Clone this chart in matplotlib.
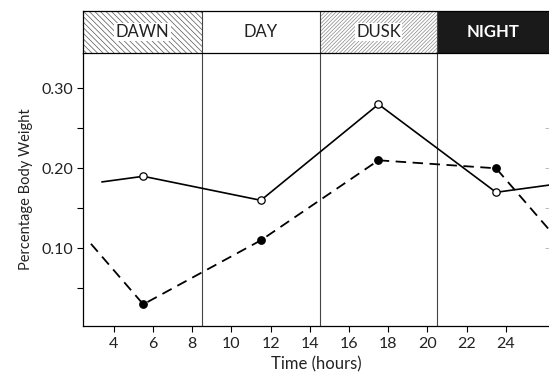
import numpy as np
import matplotlib.pyplot as plt
from matplotlib.patches import Rectangle

# ── Data ────────────────────────────────────────────────────────────────
hours = [5.5, 11.5, 17.5, 23.5]
open_series = [0.19, 0.16, 0.28, 0.17]     # solid line, open circles
filled_series = [0.03, 0.11, 0.21, 0.20]   # dashed line, filled circles

periods = ['DAWN', 'DAY', 'DUSK', 'NIGHT']
period_edges = [8.5, 14.5, 20.5]

x_ticks = [4, 6, 8, 10, 12, 14, 16, 18, 20, 22, 24]
y_ticks = [0.10, 0.20, 0.30]
y_tick_labels = ['0.10', '0.20', '0.30']

XMIN, XMAX = 2.42, 26.2
YMIN, YMAX = 0.003, 0.344

plt.rcParams['font.family'] = ['Lato', 'DejaVu Sans']
plt.rcParams['hatch.linewidth'] = 0.5


def cyclic(x, y, start, stop):
    """Day is cyclic: wrap the series around 24 h and cut it to [start, stop]."""
    xs = np.concatenate([[x[-1] - 24], x, [x[0] + 24]])
    ys = np.concatenate([[y[-1]], y, [y[0]]])
    inner = [h for h in x if start < h < stop]
    px = [start] + inner + [stop]
    return px, np.interp(px, xs, ys)


fig = plt.figure(figsize=(5.49, 3.79), dpi=100)
ax = fig.add_axes([0.151, 0.140, 0.849, 0.720])
hdr = fig.add_axes([0.151, 0.860, 0.849, 0.112])

# period dividers
for e in period_edges:
    ax.axvline(e, color='#444444', lw=0.8, zorder=1)

# lines (each started where the printed line begins)
px, py = cyclic(hours, open_series, 3.4, XMAX)
ax.plot(px, py, color='black', lw=1.2, zorder=2)
ax.plot(hours, open_series, 'o', ms=5.3, mfc='white', mec='black', mew=0.9, zorder=3)

px, py = cyclic(hours, filled_series, 2.83, XMAX)
ax.plot(px, py, color='black', lw=1.3, dashes=(5.8, 3.6), zorder=2)
ax.plot(hours, filled_series, 'o', ms=5.3, color='black', zorder=3)

ax.set_xlim(XMIN, XMAX)
ax.set_ylim(YMIN, YMAX)
ax.set_xticks(x_ticks)
ax.set_xticklabels([str(t) for t in x_ticks])
ax.set_yticks(y_ticks)
ax.set_yticklabels(y_tick_labels)
ax.set_yticks([0.05, 0.15, 0.25], minor=True)
ax.tick_params(axis='both', which='both', direction='out', length=4,
               width=0.8, labelsize=11.5, colors='black', labelcolor='#222222')
ax.tick_params(axis='y', which='minor', length=4)
ax.tick_params(axis='x', pad=4)
ax.tick_params(axis='y', pad=3)
for s in ['top', 'right']:
    ax.spines[s].set_visible(False)
for s in ['left', 'bottom']:
    ax.spines[s].set_linewidth(0.9)
ax.set_xlabel('Time (hours)', fontsize=12, labelpad=4, color='#222222')
ax.set_ylabel('Percentage Body Weight', fontsize=10.5, labelpad=6, color='#222222')

# faint ticks at the cut-off right margin
sec = ax.secondary_yaxis('right')
sec.set_yticks([0.10, 0.15, 0.20, 0.25])
sec.set_yticklabels([])
sec.tick_params(direction='in', length=3, color='#bbbbbb', width=0.7)
sec.spines['right'].set_visible(False)

# ── header band ─────────────────────────────────────────────────────────
hdr.set_xlim(XMIN, XMAX)
hdr.set_ylim(0, 1)
hdr.set_xticks([])
hdr.set_yticks([])
for s in hdr.spines.values():
    s.set_linewidth(0.9)
hdr.spines['right'].set_visible(False)

bounds = [XMIN] + period_edges + [XMAX]
styles = [
    dict(fc='white', hatch='\\' * 6, ec='#555555'),
    dict(fc='white', hatch=None, ec='#555555'),
    dict(fc='white', hatch='/' * 9, ec='#888888'),
    dict(fc='#1a1a1a', hatch=None, ec='#1a1a1a'),
]
for (a, b), st, name in zip(zip(bounds[:-1], bounds[1:]), styles, periods):
    hdr.add_patch(Rectangle((a, 0), b - a, 1, facecolor=st['fc'],
                            hatch=st['hatch'], edgecolor=st['ec'], lw=0))
    night = name == 'NIGHT'
    hdr.text((a + b) / 2, 0.5, name, ha='center', va='center',
             fontsize=12, color='white' if night else '#222222',
             fontweight='bold' if night else 'normal',
             bbox=None if night else dict(fc='white', ec='none', pad=1.0))
for e in period_edges:
    hdr.axvline(e, color='#444444', lw=0.8)

fig.savefig('out.png', dpi=100)
